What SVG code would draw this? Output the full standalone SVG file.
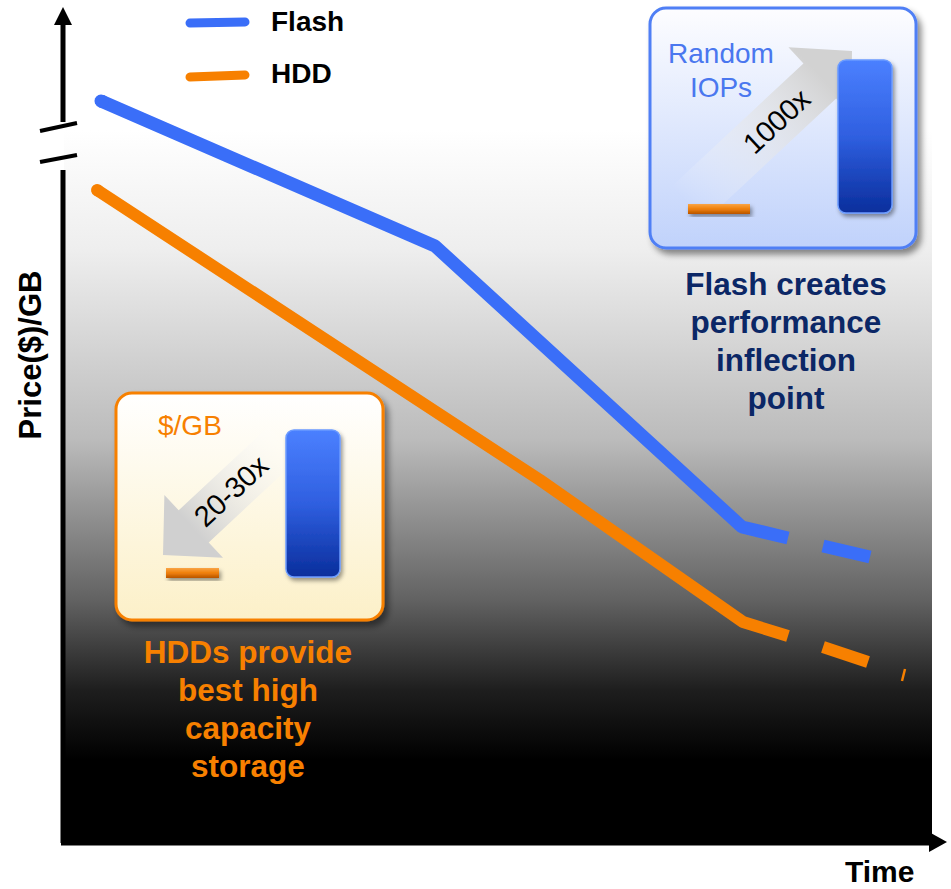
<svg xmlns="http://www.w3.org/2000/svg" width="951" height="889" viewBox="0 0 951 889">
  <style>
    text { font-family: "Liberation Sans", Arial, Helvetica, sans-serif; }
    .bold { font-weight: bold; }
    .axis { stroke: #000; stroke-width: 5; fill: none; }
    .flash { stroke: #3a6ef8; stroke-width: 13; fill: none; }
    .hdd { stroke: #f78000; stroke-width: 12; fill: none; }
    .legend { stroke-width: 9; stroke-linecap: round; fill: none; }
    .navy { fill: #0b2766; font-size: 31.5px; font-weight: bold; text-anchor: middle; }
    .orangeText { fill: #f78000; font-size: 31.5px; font-weight: bold; text-anchor: middle; }
  </style>
  <defs>
    <linearGradient id="bgGrad" gradientUnits="userSpaceOnUse" x1="0" y1="130" x2="0" y2="845">
      <stop offset="0" stop-color="#ffffff"/>
      <stop offset="0.168" stop-color="#eeeeee"/>
      <stop offset="0.434" stop-color="#bbbbbb"/>
      <stop offset="0.518" stop-color="#999999"/>
      <stop offset="0.657" stop-color="#626262"/>
      <stop offset="0.783" stop-color="#1e1e1e"/>
      <stop offset="0.881" stop-color="#000000"/>
      <stop offset="1" stop-color="#000000"/>
    </linearGradient>
    <linearGradient id="blueBox" x1="0" y1="0" x2="0" y2="1">
      <stop offset="0" stop-color="#fdfdff"/>
      <stop offset="1" stop-color="#c0d2fb"/>
    </linearGradient>
    <linearGradient id="creamBox" x1="0" y1="0" x2="0" y2="1">
      <stop offset="0" stop-color="#ffffff"/>
      <stop offset="1" stop-color="#fcf0c8"/>
    </linearGradient>
    <linearGradient id="blueBar" x1="0" y1="0" x2="0" y2="1">
      <stop offset="0" stop-color="#4b80ff"/>
      <stop offset="0.5" stop-color="#2f5fe0"/>
      <stop offset="1" stop-color="#0a2e9c"/>
    </linearGradient>
    <linearGradient id="orangeBar" x1="0" y1="0" x2="0" y2="1">
      <stop offset="0" stop-color="#f9a445"/>
      <stop offset="0.5" stop-color="#ef7f0a"/>
      <stop offset="1" stop-color="#b85500"/>
    </linearGradient>
    <linearGradient id="arrowTop" gradientUnits="userSpaceOnUse" x1="-225" y1="0" x2="-40" y2="0">
      <stop offset="0" stop-color="#ffffff" stop-opacity="0"/>
      <stop offset="1" stop-color="#d2d2d2" stop-opacity="1"/>
    </linearGradient>
    <linearGradient id="arrowBottom" gradientUnits="userSpaceOnUse" x1="-165" y1="0" x2="-40" y2="0">
      <stop offset="0" stop-color="#ffffff" stop-opacity="0.1"/>
      <stop offset="1" stop-color="#d0d0d0" stop-opacity="1"/>
    </linearGradient>
    <filter id="shadow" x="-20%" y="-20%" width="140%" height="140%">
      <feDropShadow dx="4" dy="5" stdDeviation="3" flood-color="#000" flood-opacity="0.45"/>
    </filter>
    <filter id="barShadow" x="-30%" y="-30%" width="160%" height="160%">
      <feDropShadow dx="2" dy="3" stdDeviation="2" flood-color="#000" flood-opacity="0.4"/>
    </filter>
  </defs>

  <!-- page -->
  <rect width="951" height="889" fill="#ffffff"/>

  <!-- plot area background -->
  <rect id="plot-bg" x="64" y="130" width="868" height="714" fill="url(#bgGrad)"/>

  <!-- axes -->
  <g id="axes">
    <line class="axis" x1="63" y1="22" x2="63" y2="122"/>
    <polygon points="63,7 54,25 72,25" fill="#000"/>
    <line x1="40" y1="131" x2="77" y2="123" stroke="#000" stroke-width="4"/>
    <line x1="40" y1="162" x2="77" y2="155" stroke="#000" stroke-width="4"/>
    <line class="axis" x1="63" y1="170" x2="63" y2="843"/>
    <line class="axis" x1="61" y1="843" x2="932" y2="843"/>
    <polygon points="947,842 929,832 929,852" fill="#000"/>
    <text class="bold" x="845" y="882" font-size="30">Time</text>
    <text class="bold" font-size="31" text-anchor="middle" transform="translate(41,355) rotate(-90)">Price($)/GB</text>
  </g>

  <!-- legend -->
  <g id="legend">
    <line class="legend" x1="190" y1="23" x2="245" y2="22" stroke="#3a6ef8"/>
    <text class="bold" x="271" y="31" font-size="28">Flash</text>
    <line class="legend" x1="190" y1="77" x2="245" y2="75" stroke="#f78000"/>
    <text class="bold" x="271" y="83" font-size="28">HDD</text>
  </g>

  <!-- price trend series -->
  <g id="series">
    <g id="series-flash">
      <polyline class="flash" points="101,101 435,246 742,527 788,538" stroke-linecap="butt" stroke-linejoin="bevel"/>
      <line class="flash" x1="101" y1="101" x2="102" y2="101.4" stroke-linecap="round"/>
      <line class="flash" x1="823" y1="546" x2="870" y2="557"/>
    </g>
    <g id="series-hdd">
      <polyline class="hdd" points="97,190 540,480 743,622 788,636" stroke-linejoin="bevel"/>
      <line class="hdd" x1="97" y1="190" x2="98" y2="190.6" stroke-linecap="round"/>
      <line class="hdd" x1="823" y1="647" x2="868" y2="662"/>
      <line x1="905" y1="669" x2="902" y2="681" stroke="#f78000" stroke-width="2.5"/>
    </g>
  </g>

  <!-- callout: flash random IOPs -->
  <g id="callout-flash">
    <rect x="650" y="8" width="266" height="240" rx="16" fill="url(#blueBox)" stroke="#4f7ff5" stroke-width="3" filter="url(#shadow)"/>
    <g transform="translate(852,51) rotate(-43)">
      <polygon points="0,0 -44,-46 -44,-24 -225,-24 -225,24 -44,24 -44,46" fill="url(#arrowTop)"/>
      <text x="-103" y="10" font-size="29" text-anchor="middle" fill="#000">1000x</text>
    </g>
    <text x="721" y="63" font-size="28" text-anchor="middle" fill="#4a77ef">Random</text>
    <text x="721" y="97" font-size="28" text-anchor="middle" fill="#4a77ef">IOPs</text>
    <rect x="688" y="204" width="62" height="10" fill="url(#orangeBar)" filter="url(#barShadow)"/>
    <rect x="838" y="60" width="54" height="153" rx="8" fill="url(#blueBar)" stroke="#6b9bff" stroke-width="1.5" filter="url(#barShadow)"/>
  </g>

  <!-- callout: HDD cost per GB -->
  <g id="callout-hdd">
    <rect x="116" y="393" width="267" height="227" rx="16" fill="url(#creamBox)" stroke="#f78000" stroke-width="3" filter="url(#shadow)"/>
    <g transform="translate(163,555) rotate(137)">
      <polygon points="0,0 -42,-43 -42,-22 -165,-22 -165,22 -42,22 -42,43" fill="url(#arrowBottom)"/>
    </g>
    <text x="0" y="10" font-size="29" text-anchor="middle" fill="#000" transform="translate(231,491) rotate(-43)">20-30x</text>
    <text x="158" y="435" font-size="28" fill="#f78000">$/GB</text>
    <rect x="166" y="568" width="53" height="10" fill="url(#orangeBar)" filter="url(#barShadow)"/>
    <rect x="286" y="430" width="54" height="147" rx="8" fill="url(#blueBar)" stroke="#6b9bff" stroke-width="1.5" filter="url(#barShadow)"/>
  </g>

  <!-- annotations -->
  <g id="note-flash">
    <text class="navy" x="786" y="295">Flash creates</text>
    <text class="navy" x="786" y="333">performance</text>
    <text class="navy" x="786" y="371">inflection</text>
    <text class="navy" x="786" y="409">point</text>
  </g>
  <g id="note-hdd">
    <text class="orangeText" x="248" y="663">HDDs provide</text>
    <text class="orangeText" x="248" y="701">best high</text>
    <text class="orangeText" x="248" y="739">capacity</text>
    <text class="orangeText" x="248" y="777">storage</text>
  </g>
</svg>
